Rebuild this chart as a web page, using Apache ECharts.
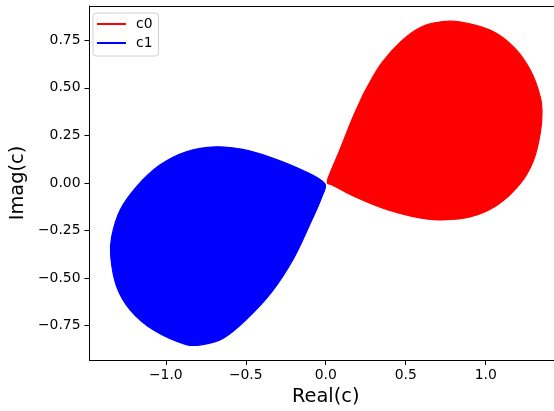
<!DOCTYPE html>
<html>
<head>
<meta charset="utf-8">
<script src="https://cdn.jsdelivr.net/npm/echarts@6/dist/echarts.min.js"></script>
<style>
html,body{margin:0;padding:0;background:#fff;overflow:hidden;}
#chart{width:600px;height:411px;}
</style>
</head>
<body>
<div id="chart"></div>
<script>
// Outer envelope of the c0 curve family (Real, Imag)
const c0Real = [0.010, 0.018, 0.088, 0.162, 0.218, 0.249, 0.348, 0.479, 0.597, 0.721, 0.845, 1.031, 1.174, 1.279, 1.341, 1.352, 1.341, 1.300, 1.217, 1.073, 0.907, 0.721, 0.597, 0.390, 0.183, 0.040];
const c0Imag = [0.000, 0.033, 0.173, 0.330, 0.435, 0.488, 0.628, 0.750, 0.820, 0.847, 0.846, 0.802, 0.715, 0.593, 0.453, 0.367, 0.261, 0.121, -0.002, -0.115, -0.177, -0.194, -0.185, -0.142, -0.072, -0.010];
// Outer envelope of the c1 curve family
const c1Real = [-0.005, -0.148, -0.355, -0.520, -0.686, -0.872, -1.037, -1.182, -1.285, -1.338, -1.344, -1.307, -1.223, -1.079, -0.872, -0.769, -0.640, -0.500, -0.340, -0.200, -0.090, -0.024];
const c1Imag = [-0.005, 0.068, 0.138, 0.177, 0.190, 0.164, 0.094, -0.019, -0.142, -0.282, -0.387, -0.544, -0.666, -0.771, -0.849, -0.849, -0.815, -0.720, -0.575, -0.395, -0.200, -0.072];

const seriesNames = ['c0', 'c1'];
const seriesColors = ['#ff0000', '#0000ff'];

const xTickValues = [-1.0, -0.5, 0.0, 0.5, 1.0];
const xTickLabels = ['\u22121.0', '\u22120.5', '0.0', '0.5', '1.0'];
const yTickValues = [-0.75, -0.5, -0.25, 0.0, 0.25, 0.5, 0.75];
const yTickLabels = ['\u22120.75', '\u22120.50', '\u22120.25', '0.00', '0.25', '0.50', '0.75'];

function zip(a, b) { return a.map((v, i) => [v, b[i]]); }
const c0Pts = zip(c0Real, c0Imag);
const c1Pts = zip(c1Real, c1Imag);

function makeRender(pts, color) {
  return function (params, api) {
    if (params.dataIndex !== 0) return null;
    const points = pts.map(p => api.coord(p));
    return {
      type: 'polygon',
      shape: { points: points, smooth: 0.35 },
      style: { fill: color, stroke: color, lineWidth: 1.2 }
    };
  };
}

const FONT = 'DejaVu Sans';
const XMIN = -1.477, XMAX = 1.477, YMIN = -0.93, YMAX = 0.93;
const chart = echarts.init(document.getElementById('chart'), null, { renderer: 'canvas' });
chart.setOption({
  animation: false,
  backgroundColor: '#ffffff',
  textStyle: { fontFamily: FONT },
  grid: { left: 86, top: 6, width: 476, height: 355, show: false },
  legend: {
    left: 93, top: 13, orient: 'vertical',
    data: seriesNames.map((n, i) => ({ name: n, icon: 'rect', itemStyle: { color: seriesColors[i] } })),
    itemWidth: 29, itemHeight: 2, itemGap: 5,
    padding: [4, 6, 6, 4],
    borderColor: '#d0d0d0', borderWidth: 1, borderRadius: 3,
    backgroundColor: 'rgba(255,255,255,0.8)',
    textStyle: { fontFamily: FONT, fontSize: 13.9, color: '#000', padding: [0, 0, 0, 5] }
  },
  xAxis: [{
    type: 'value', min: XMIN, max: XMAX, position: 'bottom',
    name: 'Real(c)', nameLocation: 'middle', nameGap: 27,
    nameTextStyle: { fontFamily: FONT, fontSize: 19.4, color: '#000', verticalAlign: 'top' },
    axisLine: { show: true, onZero: false, lineStyle: { color: '#000', width: 1 } },
    axisTick: { show: true, length: 5, lineStyle: { color: '#000', width: 1 }, customValues: xTickValues },
    axisLabel: { show: true, margin: 8, fontFamily: FONT, fontSize: 13.9, color: '#000', customValues: xTickValues,
      formatter: v => { const i = xTickValues.findIndex(t => Math.abs(t - v) < 1e-9); return i >= 0 ? xTickLabels[i] : ''; } },
    splitLine: { show: false }
  }, {
    type: 'value', min: XMIN, max: XMAX, position: 'top',
    axisLine: { show: true, onZero: false, lineStyle: { color: '#000', width: 1 } },
    axisTick: { show: false }, axisLabel: { show: false }, splitLine: { show: false }
  }],
  yAxis: {
    type: 'value', min: YMIN, max: YMAX,
    name: 'Imag(c)', nameLocation: 'middle', nameGap: 49,
    nameTextStyle: { fontFamily: FONT, fontSize: 19.4, color: '#000' },
    axisLine: { show: true, onZero: false, lineStyle: { color: '#000', width: 1 } },
    axisTick: { show: true, length: 5, lineStyle: { color: '#000', width: 1 }, customValues: yTickValues },
    axisLabel: { show: true, margin: 9, fontFamily: FONT, fontSize: 13.9, color: '#000', customValues: yTickValues,
      formatter: v => { const i = yTickValues.findIndex(t => Math.abs(t - v) < 1e-9); return i >= 0 ? yTickLabels[i] : ''; } },
    splitLine: { show: false }
  },
  series: [
    { name: seriesNames[0], type: 'custom', coordinateSystem: 'cartesian2d', data: c0Pts,
      itemStyle: { color: seriesColors[0] }, renderItem: makeRender(c0Pts, seriesColors[0]) },
    { name: seriesNames[1], type: 'custom', coordinateSystem: 'cartesian2d', data: c1Pts,
      itemStyle: { color: seriesColors[1] }, renderItem: makeRender(c1Pts, seriesColors[1]) }
  ]
});
</script>
</body>
</html>
